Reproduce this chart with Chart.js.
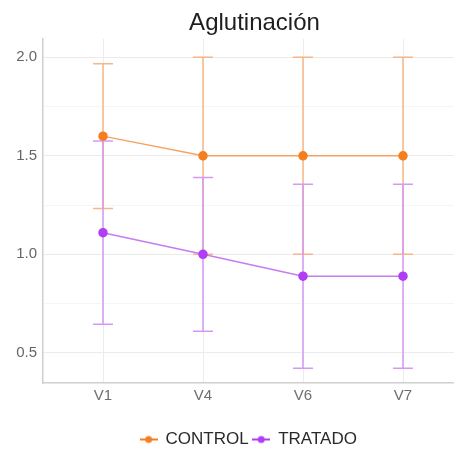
<!DOCTYPE html>
<html>
<head>
<meta charset="utf-8">
<script src="https://cdn.jsdelivr.net/npm/chart.js@4"></script>
<style>
  html, body { margin: 0; padding: 0; background: #fff; }
  #wrap { width: 454px; height: 450px; }
</style>
</head>
<body>
<div id="wrap"><canvas id="graph" width="454" height="450"></canvas></div>
<script>
const visitas = ['V1', 'V4', 'V6', 'V7']
const control = [1.6, 1.5, 1.5, 1.5]
const controlErr = [0.367, 0.5, 0.5, 0.5]
const tratado = [1.11, 1.0, 0.889, 0.889]
const tratadoErr = [0.465, 0.39, 0.467, 0.467]

const fuente = "'Liberation Sans', Arial, sans-serif"

const colores = {
  control: { punto: '#f57f1f', linea: '#f5a266', error: '#f8b688' },
  tratado: { punto: '#b03ef4', linea: '#c67cf1', error: '#d598f4' }
}

function marcaLeyenda(color) {
  const c = document.createElement('canvas')
  c.width = 18; c.height = 10
  const ctx = c.getContext('2d')
  ctx.strokeStyle = color
  ctx.lineWidth = 2
  ctx.beginPath(); ctx.moveTo(0, 5); ctx.lineTo(18, 5); ctx.stroke()
  ctx.fillStyle = color
  ctx.beginPath(); ctx.arc(9, 5, 3.5, 0, Math.PI * 2); ctx.fill()
  return c
}

// barras de error dibujadas con las escalas del grafico
const barrasError = {
  id: 'barrasError',
  beforeDatasetsDraw(chart) {
    const { ctx, scales: { x, y } } = chart
    chart.data.datasets.forEach(ds => {
      ctx.save()
      ctx.strokeStyle = ds.errorColor
      ctx.lineWidth = 1.5
      ds.data.forEach((p, i) => {
        const px = x.getPixelForValue(p.x)
        const top = y.getPixelForValue(p.y + ds.errores[i])
        const bot = y.getPixelForValue(p.y - ds.errores[i])
        ctx.beginPath()
        ctx.moveTo(px, top); ctx.lineTo(px, bot)
        ctx.moveTo(px - 10, top); ctx.lineTo(px + 10, top)
        ctx.moveTo(px - 10, bot); ctx.lineTo(px + 10, bot)
        ctx.stroke()
      })
      ctx.restore()
    })
  }
}

// baja un poco la leyenda y corre el titulo a la derecha
const ajustarCajas = {
  id: 'ajustarCajas',
  afterLayout(chart) {
    chart.legend.top += 8
    chart.legend.bottom += 8
    chart.titleBlock.left += 6
    chart.titleBlock.right += 6
  }
}

const datos = {
  datasets: [
    {
      label: 'CONTROL',
      data: control.map((v, i) => ({ x: i, y: v })),
      errores: controlErr,
      errorColor: colores.control.error,
      borderColor: colores.control.linea,
      backgroundColor: colores.control.punto,
      pointBackgroundColor: colores.control.punto,
      pointBorderColor: colores.control.punto,
      pointRadius: 4,
      borderWidth: 1.5,
      marca: marcaLeyenda(colores.control.punto)
    },
    {
      label: 'TRATADO',
      data: tratado.map((v, i) => ({ x: i, y: v })),
      errores: tratadoErr,
      errorColor: colores.tratado.error,
      borderColor: colores.tratado.linea,
      backgroundColor: colores.tratado.punto,
      pointBackgroundColor: colores.tratado.punto,
      pointBorderColor: colores.tratado.punto,
      pointRadius: 4,
      borderWidth: 1.5,
      marca: marcaLeyenda(colores.tratado.punto)
    }
  ]
}

new Chart(document.querySelector('#graph'), {
  type: 'line',
  data: datos,
  plugins: [barrasError, ajustarCajas],
  options: {
    responsive: false,
    animation: false,
    layout: { autoPadding: false, padding: 0 },
    plugins: {
      title: {
        display: true,
        fullSize: false,
        text: 'Aglutinación',
        color: '#1e1e1e',
        font: { family: fuente, size: 24, weight: 'normal' },
        padding: { top: 9, bottom: 1 }
      },
      legend: {
        position: 'bottom',
        fullSize: false,
        labels: {
          color: '#2a2a2a',
          font: { family: fuente, size: 17 },
          usePointStyle: true,
          padding: 4,
          generateLabels: chart => chart.data.datasets.map((ds, i) => ({
            text: ds.label,
            pointStyle: ds.marca,
            fontColor: '#2a2a2a',
            datasetIndex: i,
            hidden: false,
            lineWidth: 0
          }))
        }
      },
      tooltip: { enabled: false }
    },
    scales: {
      x: {
        type: 'linear',
        min: -0.6,
        max: 3.51,
        afterBuildTicks: s => { s.ticks = visitas.map((_, i) => ({ value: i })) },
        afterFit: s => { s.height = 36; s.paddingLeft = 0; s.paddingRight = 0 },
        ticks: {
          color: '#6e6e6e',
          font: { family: fuente, size: 15 },
          padding: 4,
          callback: v => visitas[v]
        },
        grid: { color: '#ececec', drawTicks: false },
        border: { color: '#cfcfcf', width: 1.5 }
      },
      y: {
        min: 0.347,
        max: 2.094,
        afterBuildTicks: s => {
          s.ticks = [0.5, 0.75, 1.0, 1.25, 1.5, 1.75, 2.0].map(v => ({ value: v }))
        },
        afterFit: s => { s.width = 43 },
        ticks: {
          color: '#666',
          font: { family: fuente, size: 15 },
          padding: 6,
          callback: v => (v * 2) % 1 === 0 ? v.toFixed(1) : ''
        },
        grid: {
          color: c => (c.tick.value * 2) % 1 === 0 ? '#ebebeb' : '#f5f5f5',
          drawTicks: false
        },
        border: { color: '#cfcfcf', width: 1.5 }
      }
    }
  }
})
</script>
</body>
</html>
